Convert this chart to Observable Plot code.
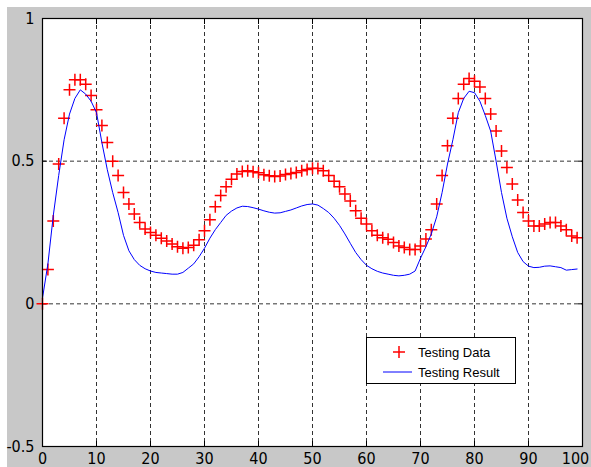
<!DOCTYPE html>
<html><head><meta charset="utf-8">
<script src="https://cdn.jsdelivr.net/npm/d3@7"></script>
<script src="https://cdn.jsdelivr.net/npm/@observablehq/plot@0.6"></script>
<style>
body{margin:0;background:#fff;overflow:hidden;}
#fig{position:absolute;left:7px;top:7px;width:584px;height:460px;background:#c8c8c8;}
#fig > svg{overflow:visible;}
#legend{position:absolute;left:359px;top:330px;width:150px;height:47px;box-sizing:border-box;background:#fff;border:1px solid #000;}
#legend svg{position:absolute;left:-1px;top:-1px;}
</style></head><body>
<div id="fig"></div>
<script>
// x positions (samples)
const xIndex = [0,1,2,3,4,5,6,7,8,9,10,11,12,13,14,15,16,17,18,19,20,21,22,23,24,25,26,27,28,29,30,31,32,33,34,35,36,37,38,39,40,41,42,43,44,45,46,47,48,49,50,51,52,53,54,55,56,57,58,59,60,61,62,63,64,65,66,67,68,69,70,71,72,73,74,75,76,77,78,79,80,81,82,83,84,85,86,87,88,89,90,91,92,93,94,95,96,97,98,99];
// Testing Data (red +)
const testingData = [0.00,0.12,0.29,0.49,0.65,0.75,0.785,0.785,0.77,0.73,0.68,0.625,0.565,0.50,0.45,0.39,0.35,0.315,0.285,0.262,0.25,0.24,0.23,0.22,0.21,0.20,0.195,0.197,0.205,0.225,0.256,0.295,0.34,0.38,0.41,0.437,0.455,0.464,0.466,0.463,0.459,0.452,0.449,0.446,0.448,0.453,0.457,0.46,0.466,0.471,0.475,0.474,0.466,0.45,0.43,0.41,0.385,0.36,0.326,0.30,0.28,0.256,0.24,0.232,0.226,0.215,0.203,0.197,0.19,0.19,0.203,0.227,0.26,0.35,0.45,0.554,0.65,0.72,0.77,0.79,0.78,0.76,0.72,0.665,0.606,0.536,0.478,0.42,0.364,0.32,0.29,0.273,0.273,0.28,0.285,0.285,0.273,0.26,0.238,0.232];
// Testing Result (blue line)
const testingResult = [0.02,0.14,0.31,0.45,0.575,0.665,0.72,0.75,0.735,0.71,0.67,0.565,0.47,0.39,0.32,0.24,0.186,0.155,0.135,0.123,0.115,0.11,0.108,0.106,0.104,0.104,0.11,0.125,0.14,0.165,0.195,0.23,0.26,0.285,0.31,0.325,0.336,0.342,0.341,0.337,0.332,0.326,0.321,0.318,0.319,0.324,0.329,0.336,0.343,0.348,0.35,0.346,0.334,0.32,0.30,0.275,0.245,0.212,0.18,0.155,0.135,0.123,0.114,0.108,0.104,0.10,0.098,0.10,0.104,0.115,0.16,0.20,0.245,0.305,0.39,0.49,0.575,0.67,0.72,0.745,0.74,0.71,0.66,0.605,0.50,0.39,0.30,0.235,0.18,0.148,0.132,0.127,0.128,0.132,0.133,0.13,0.127,0.118,0.12,0.122];
const xTicks = [0,10,20,30,40,50,60,70,80,90,100];
const yTicks = [-0.5,0,0.5,1];
const legendLabels = ["Testing Data","Testing Result"];

const redData = xIndex.map((x,i)=>({x, y: testingData[i]}));
const blueData = xIndex.map((x,i)=>({x, y: testingResult[i]}));

const plusSymbol = {
  draw(ctx, size){
    const r = Math.sqrt(size/Math.PI);
    ctx.moveTo(-r,0); ctx.lineTo(r,0);
    ctx.moveTo(0,-r); ctx.lineTo(0,r);
  }
};

const fontFam = '"Liberation Sans Narrow","Arial Narrow","DejaVu Sans Condensed",sans-serif';
const blank = () => "";

const chart = Plot.plot({
  width: 584, height: 460,
  marginLeft: 35, marginRight: 9, marginTop: 11, marginBottom: 21,
  style: {background: "transparent", fontFamily: fontFam, fontSize: "16px", color: "#000"},
  x: {domain: [0,100]},
  y: {domain: [-0.5,1]},
  marks: [
    Plot.frame({fill: "#fff", stroke: "none"}),
    Plot.gridX({ticks: xTicks, stroke: "#000", strokeOpacity: 0.8, strokeDasharray: "4,3"}),
    Plot.gridY({ticks: yTicks, stroke: "#000", strokeOpacity: 0.8, strokeDasharray: "4,3"}),
    Plot.axisX({ticks: xTicks.slice(0, -1), tickSize: 0, tickPadding: 6, fontSize: 16, label: null, tickFormat: d => String(d)}),
    Plot.axisX({ticks: xTicks.slice(-1), tickSize: 0, tickPadding: 6, fontSize: 16, label: null, tickFormat: d => String(d), dx: -7}),
    Plot.axisY({ticks: yTicks, tickSize: 0, tickPadding: 8, fontSize: 16, label: null, tickFormat: d => String(d)}),
    Plot.axisX({anchor: "bottom", ticks: xTicks, tickSize: -5, tickFormat: blank, label: null}),
    Plot.axisX({anchor: "top", ticks: xTicks, tickSize: -5, tickFormat: blank, label: null}),
    Plot.axisY({anchor: "left", ticks: yTicks, tickSize: -5, tickFormat: blank, label: null}),
    Plot.axisY({anchor: "right", ticks: yTicks, tickSize: -5, tickFormat: blank, label: null}),
    Plot.dot(redData, {x: "x", y: "y", symbol: plusSymbol, r: 6, stroke: "#ff0000", strokeWidth: 1.5, fill: "none"}),
    Plot.line(blueData, {x: "x", y: "y", stroke: "#0000ff", strokeWidth: 1}),
    Plot.frame({stroke: "#000", strokeWidth: 1.2})
  ]
});
const fig = document.getElementById("fig");
fig.appendChild(chart);

// legend (overlay inside axes, as in the original)
const leg = document.createElement("div");
leg.id = "legend";
leg.innerHTML = `<svg width="150" height="47" font-family='"Liberation Sans",Arial,sans-serif' font-size="13">
  <path d="M27,15h12M33,9v12" stroke="#ff0000" stroke-width="1.5" fill="none"/>
  <line x1="17" y1="35" x2="46" y2="35" stroke="#0000ff" stroke-width="1"/>
  <text x="52" y="15" dy="0.35em">${legendLabels[0]}</text>
  <text x="52" y="35" dy="0.35em">${legendLabels[1]}</text>
</svg>`;
fig.appendChild(leg);
</script>
</body></html>
